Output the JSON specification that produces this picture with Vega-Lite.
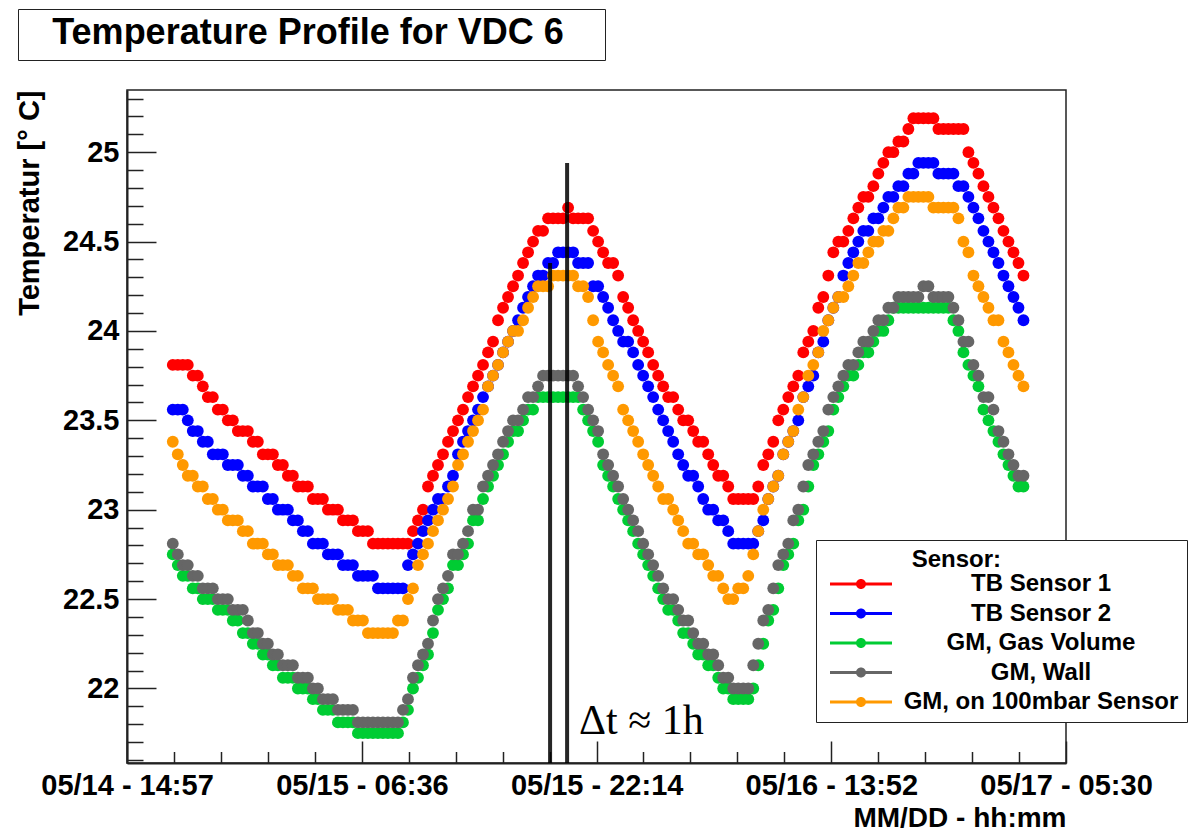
{
  "$schema": "https://vega.github.io/schema/vega-lite/v6.json",
  "background": "white",
  "padding": {"left": 15, "top": 8, "right": 0, "bottom": 0},
  "width": 939,
  "height": 673,
  "config": {
    "font": "Liberation Sans",
    "view": {"stroke": "#222222", "strokeWidth": 1.5},
    "axis": {"grid": false}
  },
  "data": {"values": [
    {"t":"2014-05-14T18:00","tb1":23.81,"tb2":23.56,"gas":22.75,"wall":22.81,"p100":23.38},
    {"t":"2014-05-14T18:20","tb1":23.81,"tb2":23.56,"gas":22.69,"wall":22.75,"p100":23.31},
    {"t":"2014-05-14T18:40","tb1":23.81,"tb2":23.56,"gas":22.63,"wall":22.69,"p100":23.25},
    {"t":"2014-05-14T19:00","tb1":23.81,"tb2":23.5,"gas":22.63,"wall":22.69,"p100":23.19},
    {"t":"2014-05-14T19:20","tb1":23.75,"tb2":23.44,"gas":22.56,"wall":22.63,"p100":23.19},
    {"t":"2014-05-14T19:40","tb1":23.75,"tb2":23.44,"gas":22.56,"wall":22.63,"p100":23.13},
    {"t":"2014-05-14T20:00","tb1":23.69,"tb2":23.38,"gas":22.5,"wall":22.56,"p100":23.13},
    {"t":"2014-05-14T20:20","tb1":23.63,"tb2":23.38,"gas":22.5,"wall":22.56,"p100":23.06},
    {"t":"2014-05-14T20:40","tb1":23.63,"tb2":23.31,"gas":22.5,"wall":22.56,"p100":23.06},
    {"t":"2014-05-14T21:00","tb1":23.56,"tb2":23.31,"gas":22.44,"wall":22.5,"p100":23},
    {"t":"2014-05-14T21:20","tb1":23.56,"tb2":23.31,"gas":22.44,"wall":22.5,"p100":23},
    {"t":"2014-05-14T21:40","tb1":23.5,"tb2":23.25,"gas":22.44,"wall":22.5,"p100":22.94},
    {"t":"2014-05-14T22:00","tb1":23.5,"tb2":23.25,"gas":22.38,"wall":22.44,"p100":22.94},
    {"t":"2014-05-14T22:20","tb1":23.44,"tb2":23.25,"gas":22.38,"wall":22.44,"p100":22.94},
    {"t":"2014-05-14T22:40","tb1":23.44,"tb2":23.19,"gas":22.31,"wall":22.44,"p100":22.88},
    {"t":"2014-05-14T23:00","tb1":23.44,"tb2":23.19,"gas":22.31,"wall":22.38,"p100":22.88},
    {"t":"2014-05-14T23:20","tb1":23.38,"tb2":23.13,"gas":22.25,"wall":22.31,"p100":22.81},
    {"t":"2014-05-14T23:40","tb1":23.38,"tb2":23.13,"gas":22.25,"wall":22.31,"p100":22.81},
    {"t":"2014-05-15T00:00","tb1":23.31,"tb2":23.13,"gas":22.19,"wall":22.25,"p100":22.81},
    {"t":"2014-05-15T00:20","tb1":23.31,"tb2":23.06,"gas":22.19,"wall":22.25,"p100":22.75},
    {"t":"2014-05-15T00:40","tb1":23.31,"tb2":23.06,"gas":22.13,"wall":22.19,"p100":22.75},
    {"t":"2014-05-15T01:00","tb1":23.25,"tb2":23,"gas":22.13,"wall":22.19,"p100":22.69},
    {"t":"2014-05-15T01:20","tb1":23.25,"tb2":23,"gas":22.06,"wall":22.13,"p100":22.69},
    {"t":"2014-05-15T01:40","tb1":23.19,"tb2":23,"gas":22.06,"wall":22.13,"p100":22.69},
    {"t":"2014-05-15T02:00","tb1":23.19,"tb2":22.94,"gas":22.06,"wall":22.13,"p100":22.63},
    {"t":"2014-05-15T02:20","tb1":23.13,"tb2":22.94,"gas":22,"wall":22.06,"p100":22.63},
    {"t":"2014-05-15T02:40","tb1":23.13,"tb2":22.88,"gas":22,"wall":22.06,"p100":22.56},
    {"t":"2014-05-15T03:00","tb1":23.13,"tb2":22.88,"gas":22,"wall":22.06,"p100":22.56},
    {"t":"2014-05-15T03:20","tb1":23.06,"tb2":22.81,"gas":21.94,"wall":22,"p100":22.56},
    {"t":"2014-05-15T03:40","tb1":23.06,"tb2":22.81,"gas":21.94,"wall":22,"p100":22.5},
    {"t":"2014-05-15T04:00","tb1":23.06,"tb2":22.81,"gas":21.88,"wall":21.94,"p100":22.5},
    {"t":"2014-05-15T04:20","tb1":23,"tb2":22.75,"gas":21.88,"wall":21.94,"p100":22.5},
    {"t":"2014-05-15T04:40","tb1":23,"tb2":22.75,"gas":21.88,"wall":21.94,"p100":22.5},
    {"t":"2014-05-15T05:00","tb1":23,"tb2":22.75,"gas":21.81,"wall":21.88,"p100":22.44},
    {"t":"2014-05-15T05:20","tb1":22.94,"tb2":22.69,"gas":21.81,"wall":21.88,"p100":22.44},
    {"t":"2014-05-15T05:40","tb1":22.94,"tb2":22.69,"gas":21.81,"wall":21.88,"p100":22.44},
    {"t":"2014-05-15T06:00","tb1":22.94,"tb2":22.69,"gas":21.81,"wall":21.88,"p100":22.38},
    {"t":"2014-05-15T06:20","tb1":22.88,"tb2":22.63,"gas":21.75,"wall":21.81,"p100":22.38},
    {"t":"2014-05-15T06:40","tb1":22.88,"tb2":22.63,"gas":21.75,"wall":21.81,"p100":22.38},
    {"t":"2014-05-15T07:00","tb1":22.88,"tb2":22.63,"gas":21.75,"wall":21.81,"p100":22.31},
    {"t":"2014-05-15T07:20","tb1":22.81,"tb2":22.63,"gas":21.75,"wall":21.81,"p100":22.31},
    {"t":"2014-05-15T07:40","tb1":22.81,"tb2":22.56,"gas":21.75,"wall":21.81,"p100":22.31},
    {"t":"2014-05-15T08:00","tb1":22.81,"tb2":22.56,"gas":21.75,"wall":21.81,"p100":22.31},
    {"t":"2014-05-15T08:20","tb1":22.81,"tb2":22.56,"gas":21.75,"wall":21.81,"p100":22.31},
    {"t":"2014-05-15T08:40","tb1":22.81,"tb2":22.56,"gas":21.75,"wall":21.81,"p100":22.31},
    {"t":"2014-05-15T09:00","tb1":22.81,"tb2":22.56,"gas":21.75,"wall":21.81,"p100":22.38},
    {"t":"2014-05-15T09:20","tb1":22.81,"tb2":22.56,"gas":21.81,"wall":21.88,"p100":22.38},
    {"t":"2014-05-15T09:40","tb1":22.81,"tb2":22.69,"gas":21.88,"wall":21.94,"p100":22.5},
    {"t":"2014-05-15T10:00","tb1":22.88,"tb2":22.75,"gas":22,"wall":22.06,"p100":22.56},
    {"t":"2014-05-15T10:20","tb1":22.94,"tb2":22.81,"gas":22.06,"wall":22.13,"p100":22.69},
    {"t":"2014-05-15T10:40","tb1":23,"tb2":22.88,"gas":22.13,"wall":22.19,"p100":22.75},
    {"t":"2014-05-15T11:00","tb1":23.13,"tb2":22.94,"gas":22.19,"wall":22.25,"p100":22.81},
    {"t":"2014-05-15T11:20","tb1":23.19,"tb2":23,"gas":22.31,"wall":22.38,"p100":22.88},
    {"t":"2014-05-15T11:40","tb1":23.25,"tb2":23.06,"gas":22.44,"wall":22.5,"p100":22.94},
    {"t":"2014-05-15T12:00","tb1":23.31,"tb2":23.06,"gas":22.5,"wall":22.56,"p100":23},
    {"t":"2014-05-15T12:20","tb1":23.38,"tb2":23.13,"gas":22.56,"wall":22.63,"p100":23.06},
    {"t":"2014-05-15T12:40","tb1":23.44,"tb2":23.19,"gas":22.69,"wall":22.75,"p100":23.13},
    {"t":"2014-05-15T13:00","tb1":23.5,"tb2":23.31,"gas":22.69,"wall":22.75,"p100":23.25},
    {"t":"2014-05-15T13:20","tb1":23.56,"tb2":23.38,"gas":22.75,"wall":22.81,"p100":23.31},
    {"t":"2014-05-15T13:40","tb1":23.63,"tb2":23.44,"gas":22.81,"wall":22.88,"p100":23.38},
    {"t":"2014-05-15T14:00","tb1":23.69,"tb2":23.5,"gas":22.94,"wall":23,"p100":23.44},
    {"t":"2014-05-15T14:20","tb1":23.75,"tb2":23.56,"gas":22.94,"wall":23,"p100":23.5},
    {"t":"2014-05-15T14:40","tb1":23.81,"tb2":23.63,"gas":23.06,"wall":23.13,"p100":23.56},
    {"t":"2014-05-15T15:00","tb1":23.88,"tb2":23.69,"gas":23.13,"wall":23.19,"p100":23.69},
    {"t":"2014-05-15T15:20","tb1":23.94,"tb2":23.75,"gas":23.19,"wall":23.25,"p100":23.75},
    {"t":"2014-05-15T15:40","tb1":24.06,"tb2":23.81,"gas":23.25,"wall":23.31,"p100":23.81},
    {"t":"2014-05-15T16:00","tb1":24.13,"tb2":23.88,"gas":23.31,"wall":23.38,"p100":23.88},
    {"t":"2014-05-15T16:20","tb1":24.19,"tb2":23.94,"gas":23.38,"wall":23.44,"p100":23.94},
    {"t":"2014-05-15T16:40","tb1":24.25,"tb2":24,"gas":23.44,"wall":23.5,"p100":24},
    {"t":"2014-05-15T17:00","tb1":24.31,"tb2":24.06,"gas":23.44,"wall":23.5,"p100":24},
    {"t":"2014-05-15T17:20","tb1":24.38,"tb2":24.13,"gas":23.5,"wall":23.56,"p100":24.06},
    {"t":"2014-05-15T17:40","tb1":24.44,"tb2":24.19,"gas":23.56,"wall":23.63,"p100":24.13},
    {"t":"2014-05-15T18:00","tb1":24.5,"tb2":24.25,"gas":23.56,"wall":23.63,"p100":24.19},
    {"t":"2014-05-15T18:20","tb1":24.56,"tb2":24.31,"gas":23.63,"wall":23.69,"p100":24.25},
    {"t":"2014-05-15T18:40","tb1":24.56,"tb2":24.31,"gas":23.63,"wall":23.75,"p100":24.25},
    {"t":"2014-05-15T19:00","tb1":24.63,"tb2":24.38,"gas":23.63,"wall":23.75,"p100":24.25},
    {"t":"2014-05-15T19:20","tb1":24.63,"tb2":24.38,"gas":23.63,"wall":23.75,"p100":24.31},
    {"t":"2014-05-15T19:40","tb1":24.63,"tb2":24.44,"gas":23.63,"wall":23.75,"p100":24.31},
    {"t":"2014-05-15T20:00","tb1":24.63,"tb2":24.44,"gas":23.63,"wall":23.75,"p100":24.31},
    {"t":"2014-05-15T20:20","tb1":24.69,"tb2":24.44,"gas":23.63,"wall":23.75,"p100":24.31},
    {"t":"2014-05-15T20:40","tb1":24.63,"tb2":24.44,"gas":23.63,"wall":23.75,"p100":24.31},
    {"t":"2014-05-15T21:00","tb1":24.63,"tb2":24.38,"gas":23.63,"wall":23.69,"p100":24.25},
    {"t":"2014-05-15T21:20","tb1":24.63,"tb2":24.38,"gas":23.56,"wall":23.63,"p100":24.25},
    {"t":"2014-05-15T21:40","tb1":24.63,"tb2":24.38,"gas":23.5,"wall":23.56,"p100":24.19},
    {"t":"2014-05-15T22:00","tb1":24.56,"tb2":24.25,"gas":23.44,"wall":23.5,"p100":24.06},
    {"t":"2014-05-15T22:20","tb1":24.5,"tb2":24.25,"gas":23.38,"wall":23.44,"p100":23.94},
    {"t":"2014-05-15T22:40","tb1":24.44,"tb2":24.19,"gas":23.25,"wall":23.31,"p100":23.88},
    {"t":"2014-05-15T23:00","tb1":24.38,"tb2":24.13,"gas":23.19,"wall":23.25,"p100":23.81},
    {"t":"2014-05-15T23:20","tb1":24.38,"tb2":24.06,"gas":23.13,"wall":23.19,"p100":23.75},
    {"t":"2014-05-15T23:40","tb1":24.31,"tb2":24,"gas":23.06,"wall":23.13,"p100":23.69},
    {"t":"2014-05-16T00:00","tb1":24.19,"tb2":23.94,"gas":23,"wall":23.06,"p100":23.56},
    {"t":"2014-05-16T00:20","tb1":24.13,"tb2":23.94,"gas":22.94,"wall":23,"p100":23.5},
    {"t":"2014-05-16T00:40","tb1":24.06,"tb2":23.88,"gas":22.88,"wall":22.94,"p100":23.44},
    {"t":"2014-05-16T01:00","tb1":24,"tb2":23.81,"gas":22.81,"wall":22.88,"p100":23.38},
    {"t":"2014-05-16T01:20","tb1":23.94,"tb2":23.75,"gas":22.75,"wall":22.81,"p100":23.31},
    {"t":"2014-05-16T01:40","tb1":23.88,"tb2":23.69,"gas":22.69,"wall":22.75,"p100":23.25},
    {"t":"2014-05-16T02:00","tb1":23.81,"tb2":23.63,"gas":22.63,"wall":22.69,"p100":23.19},
    {"t":"2014-05-16T02:20","tb1":23.75,"tb2":23.56,"gas":22.56,"wall":22.63,"p100":23.13},
    {"t":"2014-05-16T02:40","tb1":23.69,"tb2":23.5,"gas":22.5,"wall":22.56,"p100":23.06},
    {"t":"2014-05-16T03:00","tb1":23.63,"tb2":23.44,"gas":22.44,"wall":22.5,"p100":23.06},
    {"t":"2014-05-16T03:20","tb1":23.63,"tb2":23.38,"gas":22.44,"wall":22.5,"p100":23},
    {"t":"2014-05-16T03:40","tb1":23.56,"tb2":23.31,"gas":22.38,"wall":22.44,"p100":22.94},
    {"t":"2014-05-16T04:00","tb1":23.5,"tb2":23.25,"gas":22.31,"wall":22.38,"p100":22.88},
    {"t":"2014-05-16T04:20","tb1":23.5,"tb2":23.19,"gas":22.31,"wall":22.38,"p100":22.81},
    {"t":"2014-05-16T04:40","tb1":23.44,"tb2":23.19,"gas":22.25,"wall":22.31,"p100":22.81},
    {"t":"2014-05-16T05:00","tb1":23.38,"tb2":23.13,"gas":22.19,"wall":22.25,"p100":22.75},
    {"t":"2014-05-16T05:20","tb1":23.38,"tb2":23.06,"gas":22.19,"wall":22.25,"p100":22.75},
    {"t":"2014-05-16T05:40","tb1":23.31,"tb2":23,"gas":22.13,"wall":22.19,"p100":22.69},
    {"t":"2014-05-16T06:00","tb1":23.25,"tb2":23,"gas":22.13,"wall":22.19,"p100":22.63},
    {"t":"2014-05-16T06:20","tb1":23.19,"tb2":22.94,"gas":22.06,"wall":22.13,"p100":22.63},
    {"t":"2014-05-16T06:40","tb1":23.19,"tb2":22.94,"gas":22,"wall":22.06,"p100":22.56},
    {"t":"2014-05-16T07:00","tb1":23.13,"tb2":22.88,"gas":22,"wall":22.06,"p100":22.5},
    {"t":"2014-05-16T07:20","tb1":23.06,"tb2":22.81,"gas":21.94,"wall":22,"p100":22.5},
    {"t":"2014-05-16T07:40","tb1":23.06,"tb2":22.81,"gas":21.94,"wall":22,"p100":22.56},
    {"t":"2014-05-16T08:00","tb1":23.06,"tb2":22.81,"gas":21.94,"wall":22,"p100":22.56},
    {"t":"2014-05-16T08:20","tb1":23.06,"tb2":22.81,"gas":21.94,"wall":22,"p100":22.63},
    {"t":"2014-05-16T08:40","tb1":23.06,"tb2":22.81,"gas":22,"wall":22.13,"p100":22.75},
    {"t":"2014-05-16T09:00","tb1":23.13,"tb2":22.88,"gas":22.13,"wall":22.25,"p100":22.88},
    {"t":"2014-05-16T09:20","tb1":23.25,"tb2":22.94,"gas":22.25,"wall":22.38,"p100":23},
    {"t":"2014-05-16T09:40","tb1":23.31,"tb2":23.06,"gas":22.38,"wall":22.44,"p100":23.06},
    {"t":"2014-05-16T10:00","tb1":23.38,"tb2":23.13,"gas":22.44,"wall":22.56,"p100":23.13},
    {"t":"2014-05-16T10:20","tb1":23.5,"tb2":23.19,"gas":22.56,"wall":22.69,"p100":23.19},
    {"t":"2014-05-16T10:40","tb1":23.56,"tb2":23.31,"gas":22.69,"wall":22.75,"p100":23.31},
    {"t":"2014-05-16T11:00","tb1":23.63,"tb2":23.38,"gas":22.75,"wall":22.81,"p100":23.38},
    {"t":"2014-05-16T11:20","tb1":23.69,"tb2":23.44,"gas":22.81,"wall":22.94,"p100":23.44},
    {"t":"2014-05-16T11:40","tb1":23.75,"tb2":23.5,"gas":22.94,"wall":23,"p100":23.56},
    {"t":"2014-05-16T12:00","tb1":23.88,"tb2":23.63,"gas":23,"wall":23.13,"p100":23.63},
    {"t":"2014-05-16T12:20","tb1":23.94,"tb2":23.69,"gas":23.13,"wall":23.25,"p100":23.75},
    {"t":"2014-05-16T12:40","tb1":24,"tb2":23.75,"gas":23.25,"wall":23.31,"p100":23.81},
    {"t":"2014-05-16T13:00","tb1":24.13,"tb2":23.88,"gas":23.31,"wall":23.38,"p100":23.88},
    {"t":"2014-05-16T13:20","tb1":24.19,"tb2":23.94,"gas":23.38,"wall":23.44,"p100":24},
    {"t":"2014-05-16T13:40","tb1":24.31,"tb2":24.06,"gas":23.44,"wall":23.56,"p100":24.06},
    {"t":"2014-05-16T14:00","tb1":24.44,"tb2":24.13,"gas":23.56,"wall":23.63,"p100":24.13},
    {"t":"2014-05-16T14:20","tb1":24.5,"tb2":24.19,"gas":23.63,"wall":23.69,"p100":24.19},
    {"t":"2014-05-16T14:40","tb1":24.5,"tb2":24.31,"gas":23.69,"wall":23.75,"p100":24.19},
    {"t":"2014-05-16T15:00","tb1":24.56,"tb2":24.38,"gas":23.75,"wall":23.81,"p100":24.25},
    {"t":"2014-05-16T15:20","tb1":24.63,"tb2":24.44,"gas":23.75,"wall":23.81,"p100":24.31},
    {"t":"2014-05-16T15:40","tb1":24.69,"tb2":24.5,"gas":23.81,"wall":23.88,"p100":24.38},
    {"t":"2014-05-16T16:00","tb1":24.75,"tb2":24.56,"gas":23.88,"wall":23.94,"p100":24.38},
    {"t":"2014-05-16T16:20","tb1":24.75,"tb2":24.56,"gas":23.88,"wall":23.94,"p100":24.44},
    {"t":"2014-05-16T16:40","tb1":24.81,"tb2":24.63,"gas":23.94,"wall":24,"p100":24.5},
    {"t":"2014-05-16T17:00","tb1":24.88,"tb2":24.63,"gas":24,"wall":24.06,"p100":24.5},
    {"t":"2014-05-16T17:20","tb1":24.94,"tb2":24.69,"gas":24,"wall":24.06,"p100":24.56},
    {"t":"2014-05-16T17:40","tb1":25,"tb2":24.75,"gas":24.06,"wall":24.13,"p100":24.56},
    {"t":"2014-05-16T18:00","tb1":25,"tb2":24.75,"gas":24.13,"wall":24.13,"p100":24.63},
    {"t":"2014-05-16T18:20","tb1":25.06,"tb2":24.81,"gas":24.13,"wall":24.19,"p100":24.69},
    {"t":"2014-05-16T18:40","tb1":25.06,"tb2":24.81,"gas":24.13,"wall":24.19,"p100":24.69},
    {"t":"2014-05-16T19:00","tb1":25.13,"tb2":24.88,"gas":24.13,"wall":24.19,"p100":24.75},
    {"t":"2014-05-16T19:20","tb1":25.19,"tb2":24.88,"gas":24.13,"wall":24.19,"p100":24.75},
    {"t":"2014-05-16T19:40","tb1":25.19,"tb2":24.94,"gas":24.13,"wall":24.19,"p100":24.75},
    {"t":"2014-05-16T20:00","tb1":25.19,"tb2":24.94,"gas":24.13,"wall":24.25,"p100":24.75},
    {"t":"2014-05-16T20:20","tb1":25.19,"tb2":24.94,"gas":24.13,"wall":24.25,"p100":24.75},
    {"t":"2014-05-16T20:40","tb1":25.19,"tb2":24.94,"gas":24.13,"wall":24.19,"p100":24.69},
    {"t":"2014-05-16T21:00","tb1":25.13,"tb2":24.88,"gas":24.13,"wall":24.19,"p100":24.69},
    {"t":"2014-05-16T21:20","tb1":25.13,"tb2":24.88,"gas":24.13,"wall":24.19,"p100":24.69},
    {"t":"2014-05-16T21:40","tb1":25.13,"tb2":24.88,"gas":24.13,"wall":24.19,"p100":24.69},
    {"t":"2014-05-16T22:00","tb1":25.13,"tb2":24.88,"gas":24.06,"wall":24.13,"p100":24.69},
    {"t":"2014-05-16T22:20","tb1":25.13,"tb2":24.81,"gas":24,"wall":24.06,"p100":24.63},
    {"t":"2014-05-16T22:40","tb1":25.13,"tb2":24.81,"gas":23.88,"wall":23.94,"p100":24.5},
    {"t":"2014-05-16T23:00","tb1":25,"tb2":24.75,"gas":23.81,"wall":23.94,"p100":24.44},
    {"t":"2014-05-16T23:20","tb1":24.94,"tb2":24.69,"gas":23.75,"wall":23.81,"p100":24.31},
    {"t":"2014-05-16T23:40","tb1":24.88,"tb2":24.63,"gas":23.69,"wall":23.75,"p100":24.25},
    {"t":"2014-05-17T00:00","tb1":24.81,"tb2":24.56,"gas":23.56,"wall":23.63,"p100":24.19},
    {"t":"2014-05-17T00:20","tb1":24.75,"tb2":24.5,"gas":23.5,"wall":23.63,"p100":24.13},
    {"t":"2014-05-17T00:40","tb1":24.69,"tb2":24.44,"gas":23.44,"wall":23.56,"p100":24.06},
    {"t":"2014-05-17T01:00","tb1":24.63,"tb2":24.38,"gas":23.38,"wall":23.44,"p100":24.06},
    {"t":"2014-05-17T01:20","tb1":24.56,"tb2":24.31,"gas":23.31,"wall":23.38,"p100":23.94},
    {"t":"2014-05-17T01:40","tb1":24.5,"tb2":24.25,"gas":23.25,"wall":23.31,"p100":23.88},
    {"t":"2014-05-17T02:00","tb1":24.44,"tb2":24.19,"gas":23.19,"wall":23.25,"p100":23.81},
    {"t":"2014-05-17T02:20","tb1":24.38,"tb2":24.13,"gas":23.13,"wall":23.19,"p100":23.75},
    {"t":"2014-05-17T02:40","tb1":24.31,"tb2":24.06,"gas":23.13,"wall":23.19,"p100":23.69}
  ]},
  "layer": [
    {
      "mark": {"type": "point", "filled": true, "size": 140, "opacity": 1},
      "encoding": {
        "x": {
          "field": "t", "type": "temporal",
          "scale": {"domain": [
            {"year": 2014, "month": 5, "date": 14, "hours": 14, "minutes": 57},
            {"year": 2014, "month": 5, "date": 17, "hours": 5, "minutes": 30}
          ], "nice": false},
          "axis": {
            "orient": "bottom",
            "values": [
              {"year": 2014, "month": 5, "date": 14, "hours": 14, "minutes": 57},
              {"year": 2014, "month": 5, "date": 15, "hours": 6, "minutes": 36},
              {"year": 2014, "month": 5, "date": 15, "hours": 22, "minutes": 14},
              {"year": 2014, "month": 5, "date": 16, "hours": 13, "minutes": 52},
              {"year": 2014, "month": 5, "date": 17, "hours": 5, "minutes": 30}
            ],
            "format": "%m/%d - %H:%M",
            "tickSize": -22, "tickWidth": 1.5, "tickColor": "#222222",
            "domainColor": "#222222", "domainWidth": 2,
            "labelFont": "Liberation Sans", "labelFontWeight": "bold", "labelFontSize": 29, "labelColor": "black",
            "labelAngle": 0, "labelAlign": "center", "labelBaseline": "top", "labelPadding": 30,
            "labelFlush": false, "labelOverlap": false, "labelBound": false,
            "title": "MM/DD - hh:mm",
            "titleFont": "Liberation Sans", "titleFontWeight": "bold", "titleFontSize": 28, "titleColor": "black",
            "titleAnchor": "end", "titleAlign": "right", "titlePadding": 4
          }
        },
        "y": {
          "field": "tb1", "type": "quantitative",
          "scale": {"domain": [21.583, 25.348], "nice": false, "zero": false},
          "axis": {
            "orient": "left",
            "values": [22, 22.5, 23, 23.5, 24, 24.5, 25],
            "format": "~g",
            "tickSize": -29, "tickWidth": 1.5, "tickColor": "#222222",
            "domainColor": "#222222", "domainWidth": 2,
            "labelFont": "Liberation Sans", "labelFontWeight": "bold", "labelFontSize": 29, "labelColor": "black",
            "labelPadding": 37, "labelFlush": false, "labelOverlap": false,
            "title": "Temperatur [° C]",
            "titleFont": "Liberation Sans", "titleFontWeight": "bold", "titleFontSize": 29, "titleColor": "black",
            "titleAnchor": "end", "titleAlign": "right", "titlePadding": 18
          }
        },
        "color": {
          "datum": "TB Sensor 1", "type": "nominal",
          "scale": {
            "domain": ["TB Sensor 1", "TB Sensor 2", "GM, Gas Volume", "GM, Wall", "GM, on 100mbar Sensor"],
            "range": ["#ff0000", "#0000ff", "#00cc33", "#666666", "#ff9900"]
          },
          "legend": {
            "title": "Sensor:",
            "orient": "none", "legendX": 689, "legendY": 450,
            "direction": "vertical",
            "strokeColor": "#222222", "fillColor": "white", "padding": 8,
            "titleFont": "Liberation Sans", "titleFontWeight": "bold", "titleFontSize": 24, "titleColor": "black",
            "titleAnchor": "middle", "titleAlign": "right", "titlePadding": 0,
            "labelFont": "Liberation Sans", "labelFontWeight": "bold", "labelFontSize": 24, "labelColor": "black",
            "labelAlign": "center", "labelOffset": 168, "labelLimit": 400,
            "symbolType": "M-6.2,-0.3L6.2,-0.3L6.2,0.3L-6.2,0.3ZM-1,0A1,1,0,1,1,1,0A1,1,0,1,1,-1,0Z",
            "symbolSize": 100, "symbolStrokeWidth": 0, "symbolOffset": 25,
            "rowPadding": 5.5,
            "encode": {"symbols": {
              "shape": {"value": "M-6.2,-0.3L6.2,-0.3L6.2,0.3L-6.2,0.3ZM-1,0A1,1,0,1,1,1,0A1,1,0,1,1,-1,0Z"},
              "opacity": {"value": 1}
            }}
          }
        }
      }
    },
    {
      "mark": {"type": "point", "filled": true, "size": 140, "opacity": 1},
      "encoding": {
        "x": {
          "field": "t", "type": "temporal",
          "axis": {
            "orient": "bottom",
            "values": [
              {"year": 2014, "month": 5, "date": 14, "hours": 18, "minutes": 5},
              {"year": 2014, "month": 5, "date": 14, "hours": 21, "minutes": 12},
              {"year": 2014, "month": 5, "date": 15, "hours": 0, "minutes": 20},
              {"year": 2014, "month": 5, "date": 15, "hours": 3, "minutes": 28},
              {"year": 2014, "month": 5, "date": 15, "hours": 9, "minutes": 43},
              {"year": 2014, "month": 5, "date": 15, "hours": 12, "minutes": 51},
              {"year": 2014, "month": 5, "date": 15, "hours": 15, "minutes": 58},
              {"year": 2014, "month": 5, "date": 15, "hours": 19, "minutes": 6},
              {"year": 2014, "month": 5, "date": 16, "hours": 1, "minutes": 21},
              {"year": 2014, "month": 5, "date": 16, "hours": 4, "minutes": 29},
              {"year": 2014, "month": 5, "date": 16, "hours": 7, "minutes": 36},
              {"year": 2014, "month": 5, "date": 16, "hours": 10, "minutes": 44},
              {"year": 2014, "month": 5, "date": 16, "hours": 16, "minutes": 59},
              {"year": 2014, "month": 5, "date": 16, "hours": 20, "minutes": 7},
              {"year": 2014, "month": 5, "date": 16, "hours": 23, "minutes": 15},
              {"year": 2014, "month": 5, "date": 17, "hours": 2, "minutes": 22}
            ],
            "labels": false, "domain": false, "title": null,
            "tickSize": -11.5, "tickWidth": 1.5, "tickColor": "#222222"
          }
        },
        "y": {
          "field": "tb2", "type": "quantitative",
          "axis": {
            "orient": "left",
            "values": [21.6, 21.7, 21.8, 21.9, 22.1, 22.2, 22.3, 22.4, 22.6, 22.7, 22.8, 22.9, 23.1, 23.2, 23.3, 23.4, 23.6, 23.7, 23.8, 23.9, 24.1, 24.2, 24.3, 24.4, 24.6, 24.7, 24.8, 24.9, 25.1, 25.2, 25.3],
            "labels": false, "domain": false, "title": null,
            "tickSize": -16, "tickWidth": 1.5, "tickColor": "#222222"
          }
        },
        "color": {"datum": "TB Sensor 2", "type": "nominal"}
      }
    },
    {
      "mark": {"type": "point", "filled": true, "size": 140, "opacity": 1},
      "encoding": {
        "x": {"field": "t", "type": "temporal", "axis": null},
        "y": {"field": "gas", "type": "quantitative", "axis": null},
        "color": {"datum": "GM, Gas Volume", "type": "nominal"}
      }
    },
    {
      "mark": {"type": "point", "filled": true, "size": 140, "opacity": 1},
      "encoding": {
        "x": {"field": "t", "type": "temporal", "axis": null},
        "y": {"field": "wall", "type": "quantitative", "axis": null},
        "color": {"datum": "GM, Wall", "type": "nominal"}
      }
    },
    {
      "mark": {"type": "point", "filled": true, "size": 140, "opacity": 1},
      "encoding": {
        "x": {"field": "t", "type": "temporal", "axis": null},
        "y": {"field": "p100", "type": "quantitative", "axis": null},
        "color": {"datum": "GM, on 100mbar Sensor", "type": "nominal"}
      }
    },
    {
      "data": {"values": [
        {"t": "2014-05-15T19:08", "top": 24.38},
        {"t": "2014-05-15T20:16", "top": 24.94}
      ]},
      "mark": {"type": "rule", "strokeWidth": 4, "opacity": 0.85},
      "encoding": {
        "x": {"field": "t", "type": "temporal", "axis": null},
        "y": {"field": "top", "type": "quantitative", "axis": null},
        "y2": {"datum": 21.583},
        "stroke": {
          "datum": 1, "type": "quantitative",
          "scale": {"domain": [0, 1], "range": ["black", "black"]},
          "legend": {
            "title": "Temperature Profile for VDC 6",
            "orient": "none", "legendX": -109, "legendY": -81,
            "direction": "horizontal",
            "gradientLength": 573, "gradientThickness": 0, "gradientStrokeWidth": 0,
            "labelExpr": "''", "labelOpacity": 0, "labelFontSize": 1, "labelOffset": 0,
            "padding": 7, "strokeColor": "#222222", "fillColor": "white",
            "titleFont": "Liberation Sans", "titleFontWeight": "bold", "titleFontSize": 36, "titleColor": "black",
            "titleOrient": "top", "titleAnchor": "middle", "titleAlign": "center", "titlePadding": 0, "titleLimit": 700
          }
        }
      }
    },
    {
      "data": {"values": [
        {"t": "2014-05-15T21:04", "v": 21.745, "label": "Δt ≈ 1h"}
      ]},
      "mark": {"type": "text", "align": "left", "baseline": "alphabetic", "font": "Liberation Serif", "fontSize": 42, "color": "black"},
      "encoding": {
        "x": {"field": "t", "type": "temporal", "axis": null},
        "y": {"field": "v", "type": "quantitative", "axis": null},
        "text": {"field": "label", "type": "nominal"}
      }
    }
  ],
  "resolve": {"axis": {"x": "independent", "y": "independent"}}
}
